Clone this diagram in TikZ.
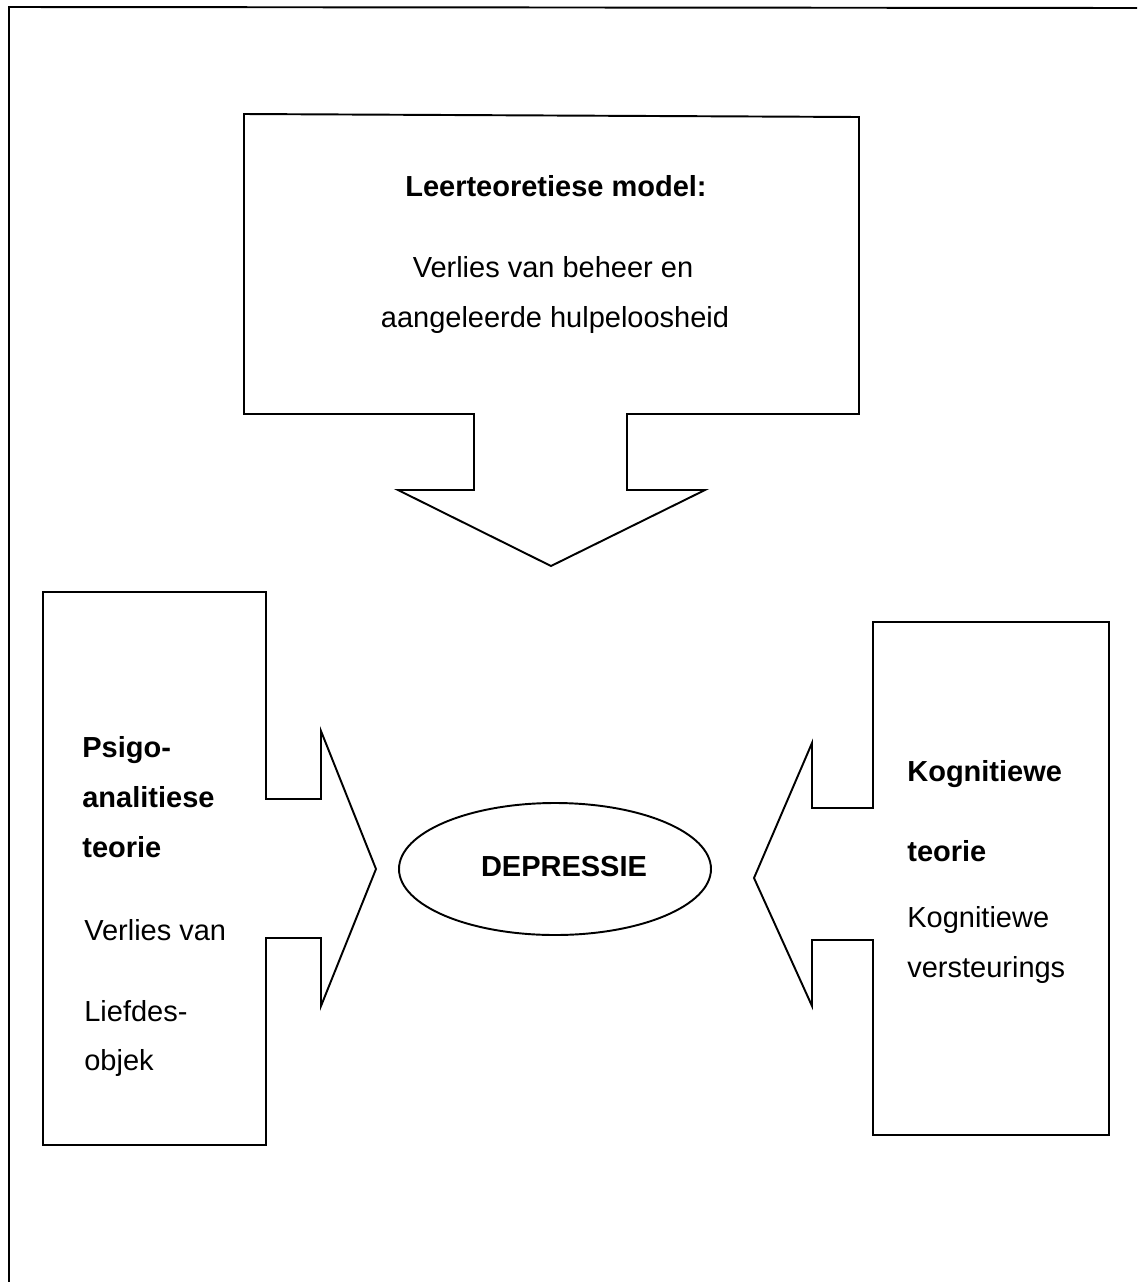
\documentclass[tikz,border=0pt]{standalone}
\usepackage{fontspec}
\setmainfont{Liberation Sans}
\begin{document}
\begin{tikzpicture}[x=0.02cm,y=-0.02cm,
  shape line/.style={draw=black,line width=1.1pt,line join=miter},
  txt/.style={inner sep=0pt,anchor=base west,font=\fontsize{16.5}{20}\selectfont},
  btxt/.style={txt,font=\fontsize{16.5}{20}\selectfont\bfseries},
  ctxt/.style={inner sep=0pt,anchor=base,font=\fontsize{16.5}{20}\selectfont}]
\useasboundingbox (0,0) rectangle (1137,1282);
% outer frame (top and left edges)
\draw[shape line] (1137,8) -- (9,7) -- (9,1282);
% top callout
\draw[shape line] (244,114) -- (859,117) -- (859,414) -- (627,414) -- (627,490)
  -- (705,490) -- (551,566) -- (398,490) -- (474,490) -- (474,414) -- (244,414) -- cycle;
\node[ctxt,font=\fontsize{16.5}{20}\selectfont\bfseries] (t1) at (556,196) {Leerteoretiese model:};
\node[ctxt] (t2) at (553,277) {Verlies van beheer en};
\node[ctxt] (t3) at (555,327) {aangeleerde hulpeloosheid};
% left callout
\draw[shape line] (43,592) -- (266,592) -- (266,799) -- (321,799) -- (321,731)
  -- (376,869) -- (321,1006) -- (321,938) -- (266,938) -- (266,1145) -- (43,1145) -- cycle;
\node[btxt] (l1) at (82,757) {Psigo-};
\node[btxt] (l2) at (82,807) {analitiese};
\node[btxt] (l3) at (82,857) {teorie};
\node[txt] (l4) at (84,940) {Verlies van};
\node[txt] (l5) at (84,1021) {Liefdes-};
\node[txt] (l6) at (84,1070) {objek};
% right callout
\draw[shape line] (873,622) -- (1109,622) -- (1109,1135) -- (873,1135) -- (873,940)
  -- (812,940) -- (812,1006) -- (754,878) -- (812,743) -- (812,808) -- (873,808) -- cycle;
\node[btxt] (r1) at (907,781) {Kognitiewe};
\node[btxt] (r2) at (907,861) {teorie};
\node[txt] (r3) at (907,927) {Kognitiewe};
\node[txt] (r4) at (907,977) {versteurings};
% centre ellipse
\draw[shape line] (555,869) ellipse [x radius=156, y radius=66];
\node[ctxt,font=\fontsize{16.5}{20}\selectfont\bfseries] (dep) at (564,876) {DEPRESSIE};
\end{tikzpicture}
\end{document}
